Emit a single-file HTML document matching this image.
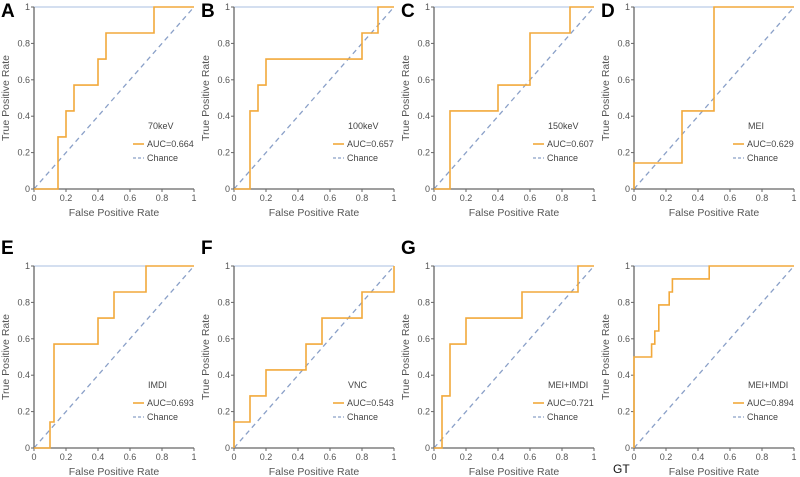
<!DOCTYPE html>
<html><head><meta charset="utf-8"><style>
html,body{margin:0;padding:0;background:#fff;width:800px;height:477px;overflow:hidden}
svg{display:block;font-family:"Liberation Sans",sans-serif}
</style></head><body>
<svg id="c" width="800" height="477"></svg>
<script>
const panelLabels=["A","B","C","D","E","F","G","GT"];
const panelTitles=["70keV","100keV","150keV","MEI","IMDI","VNC","MEI+IMDI","MEI+IMDI"];
const aucValues=["0.664","0.657","0.607","0.629","0.693","0.543","0.721","0.894"];
const fprA=[0,0.15,0.15,0.2,0.2,0.25,0.25,0.4,0.4,0.45,0.45,0.75,0.75];
const tprA=[0,0,0.286,0.286,0.429,0.429,0.571,0.571,0.714,0.714,0.857,0.857,1];
const fprB=[0,0.1,0.1,0.15,0.15,0.2,0.2,0.8,0.8,0.9,0.9];
const tprB=[0,0,0.429,0.429,0.571,0.571,0.714,0.714,0.857,0.857,1];
const fprC=[0,0.1,0.1,0.4,0.4,0.6,0.6,0.85,0.85];
const tprC=[0,0,0.429,0.429,0.571,0.571,0.857,0.857,1];
const fprD=[0,0,0.3,0.3,0.5,0.5];
const tprD=[0,0.143,0.143,0.429,0.429,1];
const fprE=[0,0.1,0.1,0.125,0.125,0.4,0.4,0.5,0.5,0.7,0.7];
const tprE=[0,0,0.143,0.143,0.571,0.571,0.714,0.714,0.857,0.857,1];
const fprF=[0,0,0.1,0.1,0.2,0.2,0.45,0.45,0.55,0.55,0.8,0.8,1,1];
const tprF=[0,0.143,0.143,0.286,0.286,0.429,0.429,0.571,0.571,0.714,0.714,0.857,0.857,1];
const fprG=[0,0.05,0.05,0.1,0.1,0.2,0.2,0.55,0.55,0.9,0.9];
const tprG=[0,0,0.286,0.286,0.571,0.571,0.714,0.714,0.857,0.857,1];
const fprGT=[0,0,0.11,0.11,0.13,0.13,0.155,0.155,0.22,0.22,0.24,0.24,0.47,0.47];
const tprGT=[0,0.5,0.5,0.571,0.571,0.643,0.643,0.786,0.786,0.857,0.857,0.929,0.929,1];
const fprs=[fprA,fprB,fprC,fprD,fprE,fprF,fprG,fprGT];
const tprs=[tprA,tprB,tprC,tprD,tprE,tprF,tprG,tprGT];
const ticks=[0,0.2,0.4,0.6,0.8,1];
const tickText=["0","0.2","0.4","0.6","0.8","1"];
const NS="http://www.w3.org/2000/svg";
const svg=document.getElementById('c');
function mk(tag,attrs,parent,text){const e=document.createElementNS(NS,tag);for(const k in attrs)e.setAttribute(k,attrs[k]);if(text!==undefined)e.textContent=text;parent.appendChild(e);return e;}
const W=160,H=182;
for(let i=0;i<8;i++){
  const col=i%4,row=Math.floor(i/4);
  const x0=34+col*200,y0=row?266:7;
  const sx=v=>x0+v*W, sy=v=>y0+H-v*H;
  const g=mk('g',{},svg);
  
  
  mk('line',{x1:sx(0),y1:sy(1),x2:sx(1),y2:sy(1),stroke:'#a9bfe0','stroke-width':1},g);
  const ch=mk('line',{x1:sx(0),y1:sy(0),x2:sx(1),y2:sy(1),stroke:'#8aa0c8','stroke-width':1.3,'stroke-dasharray':'5,4'},g);
  
  
  mk('line',{x1:sx(0),y1:sy(0),x2:sx(0),y2:sy(1),stroke:'#666','stroke-width':1.3},g);
  mk('line',{x1:sx(0),y1:sy(0),x2:sx(1),y2:sy(0),stroke:'#666','stroke-width':1.3},g);
  for(let t=0;t<ticks.length;t++){
    mk('line',{x1:sx(ticks[t]),y1:sy(0),x2:sx(ticks[t]),y2:sy(0)+3,stroke:'#666'},g);
    mk('line',{x1:sx(0)-3,y1:sy(ticks[t]),x2:sx(0),y2:sy(ticks[t]),stroke:'#666'},g);
    const xt=mk('text',{x:sx(ticks[t]),y:sy(0)+12,'font-size':9,fill:'#555','text-anchor':'middle'},g,tickText[t]);
    
    
    const yt=mk('text',{x:sx(0)-4,y:sy(ticks[t])+3,'font-size':9,fill:'#555','text-anchor':'end'},g,tickText[t]);
    
    
  }
  const xl=mk('text',{x:sx(0.5),y:sy(0)+27,'font-size':10.5,fill:'#555','text-anchor':'middle'},g,'False Positive Rate');
  
  
  const yl=mk('text',{x:0,y:0,'font-size':10.5,fill:'#555','text-anchor':'middle',transform:`translate(${x0-25},${sy(0.5)}) rotate(-90)`},g,'True Positive Rate');
  
  
  const f=fprs[i],tp=tprs[i];
  let d='M'+sx(0)+','+sy(0);
  for(let k=0;k<f.length;k++)d+=' L'+sx(f[k]).toFixed(1)+','+sy(tp[k]).toFixed(1);
  d+=' L'+sx(1)+','+sy(1);
  const p=mk('path',{d:d,fill:'none',stroke:'#f2a93b','stroke-width':1.6},g);
  
  
  const lx=x0+99, ly=y0+122;
  const lt=mk('text',{x:lx+15,y:ly,'font-size':9,fill:'#444'},g,panelTitles[i]);
  
  
  mk('line',{x1:lx,y1:ly+15,x2:lx+11,y2:ly+15,stroke:'#f2a93b','stroke-width':1.6},g);
  const la=mk('text',{x:lx+14,y:ly+18,'font-size':9,fill:'#444'},g,'AUC='+aucValues[i]);
  
  
  mk('line',{x1:lx,y1:ly+29,x2:lx+11,y2:ly+29,stroke:'#8aa0c8','stroke-width':1.2,'stroke-dasharray':'3,2'},g);
  const lc=mk('text',{x:lx+14,y:ly+32,'font-size':9,fill:'#444'},g,'Chance');
  
  
  let pl;
  if(panelLabels[i]==='GT'){
    pl=mk('text',{x:613,y:473,'font-size':12,fill:'#111'},g,'GT');
  } else {
    pl=mk('text',{x:x0-33,y:row?254:17,'font-size':19,'font-weight':'bold',fill:'#000'},g,panelLabels[i]);
  }
  
  
}
</script>
</body></html>
